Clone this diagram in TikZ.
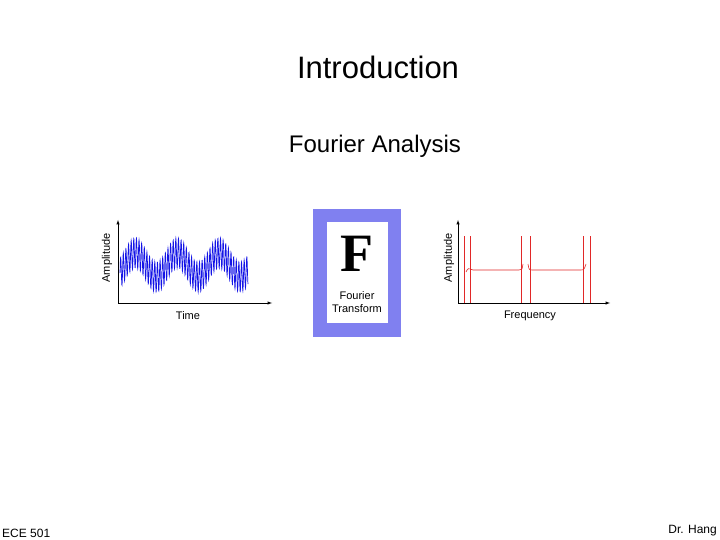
\documentclass[tikz,border=0pt]{standalone}
\usepackage{fontspec}
\setmainfont{Liberation Sans}
\newfontfamily\serifF{Liberation Serif}
\usetikzlibrary{positioning}
\definecolor{boxblue}{RGB}{128,128,240}
\definecolor{sigblue}{RGB}{20,20,230}
\definecolor{specred}{RGB}{225,40,40}
\tikzset{axisarrow/.style={-latex,line width=0.5pt},
lbl/.style={inner sep=0pt,font=\fontsize{11}{12}\selectfont}}
\begin{document}
\begin{tikzpicture}[x=1pt,y=-1pt]
\useasboundingbox (0,0) rectangle (720,540);
\node[inner sep=0pt,font=\fontsize{31}{36}\selectfont] (title) at (378,67) {Introduction};
\node[inner sep=0pt,font=\fontsize{24}{28}\selectfont] (sub) at (375,146) {Fourier Analysis};
\node[inner sep=0pt,anchor=south west,font=\fontsize{12}{14}\selectfont] (ece) at (2,538) {ECE 501};
\node[inner sep=0pt,anchor=south east,font=\fontsize{12}{14}\selectfont] (dr) at (717,536) {Dr. Hang};
% time plot
\coordinate (to) at (118,303);
\coordinate (ty) at (118,220);
\coordinate (tx) at (272,303);
\draw[axisarrow] (to) -- (ty);
\draw[axisarrow] (to) -- (tx);
\draw[sigblue,line width=0.7pt] plot[domain=0:128,samples=700] ({120+\x},{265-12*sin(8.6*(\x-5))-15*sin(137*mod(\x,2.6277))});
\node[lbl,rotate=90] (tamp) at (107,258) {Amplitude};
\node[lbl] (time) at (188,316) {Time};
% transform box
\fill[boxblue] (313,209) rectangle (401,337);
\fill[white] (327,222) rectangle (388,323);
\node[inner sep=0pt,font=\serifF\bfseries\fontsize{54}{54}\selectfont] (F) at (357,254) {F};
\node[lbl,align=center,font=\fontsize{11}{13}\selectfont] (ft) at (357,302) {Fourier\\Transform};
% spectrum plot
\coordinate (fo) at (458,303);
\coordinate (fy) at (458,220);
\coordinate (fx) at (610,303);
\draw[axisarrow] (fo) -- (fy);
\draw[axisarrow] (fo) -- (fx);
\draw[specred,line width=0.6pt] (466,272) .. controls (468,268) .. (473,270) -- (519,270) .. controls (522,270) .. (523,264);
\draw[specred,line width=0.6pt] (528,264) .. controls (529,270) .. (533,270) -- (580,270) .. controls (584,270) .. (586,264);
\foreach \sx in {464,470,521,530,583,590}{\draw[specred,line width=0.4pt] (\sx,303) -- (\sx,236);}
\node[lbl,rotate=90] (famp) at (449,258) {Amplitude};
\node[lbl] (freq) at (530,316) {Frequency};
\end{tikzpicture}
\end{document}
